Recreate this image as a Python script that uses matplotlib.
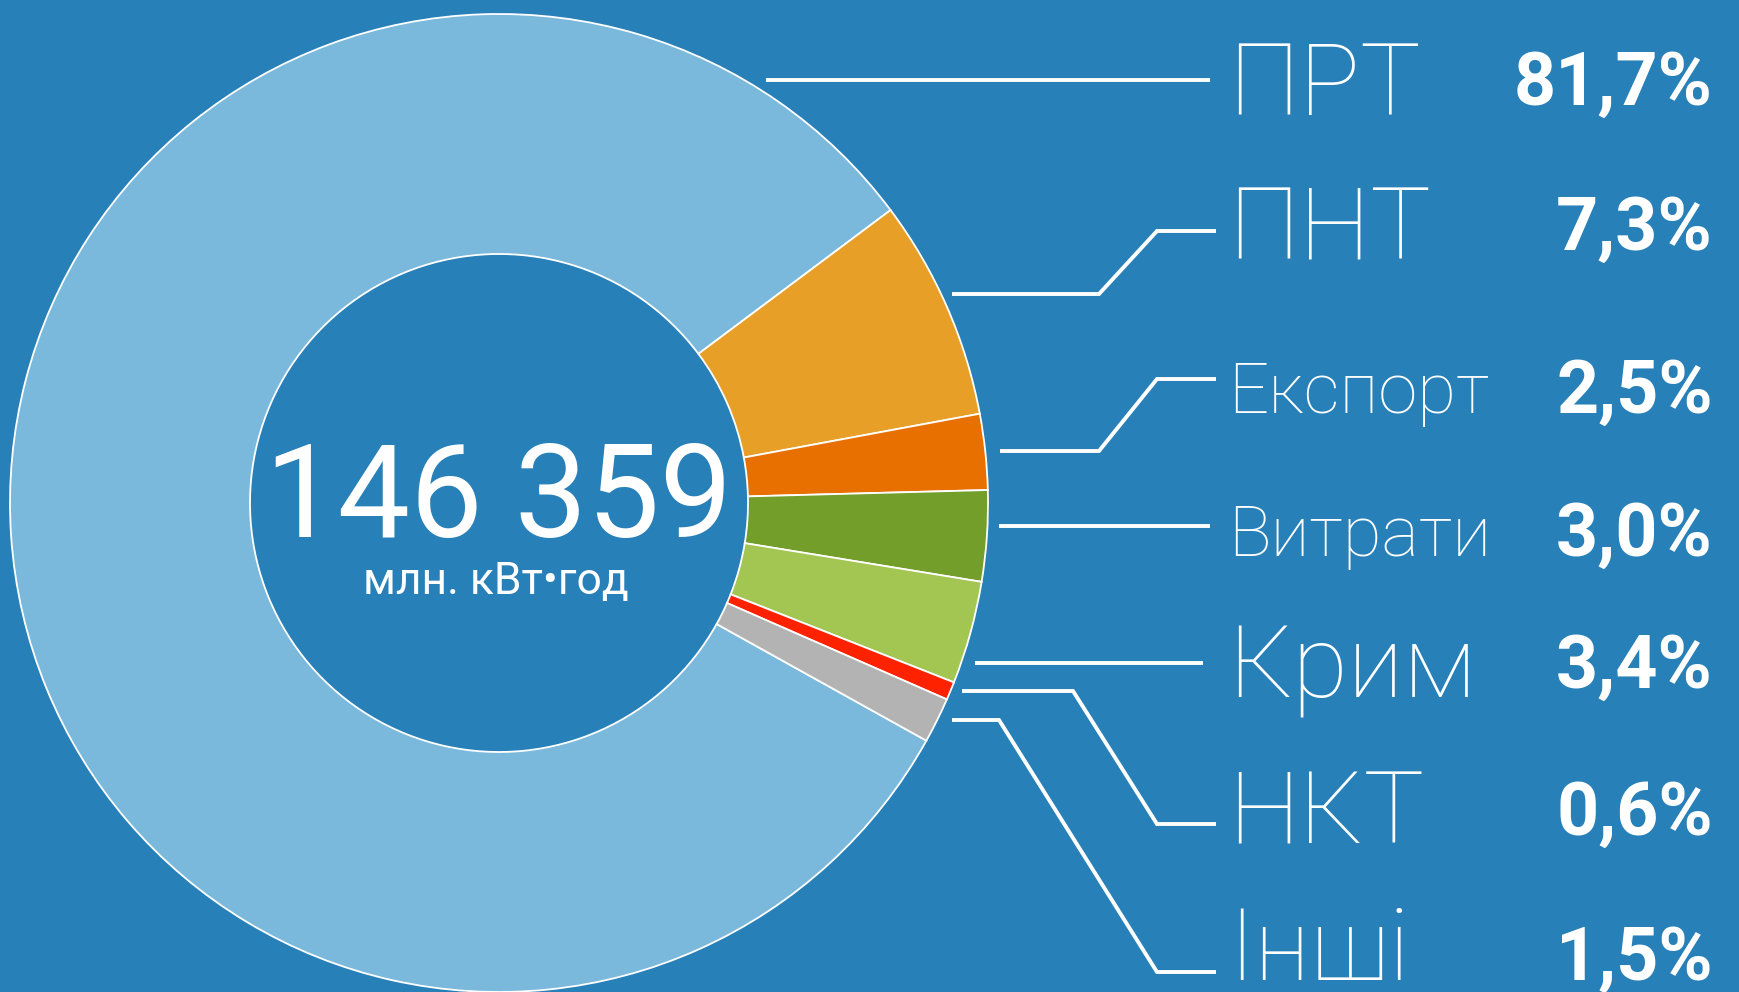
import matplotlib
matplotlib.use("Agg")
import matplotlib.pyplot as plt

# ---- data ----
categories = ["ПРТ", "ПНТ", "Експорт", "Витрати", "Крим", "НКТ", "Інші"]
shares = [81.7, 7.3, 2.5, 3.0, 3.4, 0.6, 1.5]
total_value = "146 359"
total_unit = "млн. кВт•год"

colors = ["#7ab9dc", "#e89f27", "#e87000", "#739e2a", "#a2c651", "#ff2200", "#b3b3b3"]
BG = "#2880b8"

W, H = 1740, 992
fig = plt.figure(figsize=(W / 100, H / 100), dpi=100, facecolor=BG)
ax = fig.add_axes([0, 0, 1, 1])
ax.set_facecolor(BG)

def Y(y):
    return H - y

cx, cy, R, r_in = 499, 503, 489, 249
ax.pie(shares, colors=colors, startangle=-29.08, counterclock=False,
       center=(cx, Y(cy)), radius=R, frame=True,
       wedgeprops=dict(width=R - r_in, edgecolor="white", linewidth=1.3))
ax.set_xlim(0, W)
ax.set_ylim(0, H)
ax.set_aspect("equal")
ax.axis("off")

FONT = "Roboto"
# center text
ax.text(cx, Y(537), total_value, ha="center", va="baseline", color="white",
        fontsize=93, family=FONT, fontweight="normal")
ax.text(cx - 3, Y(594), total_unit, ha="center", va="baseline", color="white",
        fontsize=32, family=FONT, fontweight="normal")

# leader lines (layout, y measured from top)
leaders = [
    [(766, 80), (1210, 80)],
    [(952, 294), (1099, 294), (1157, 231), (1216, 231)],
    [(1000, 451), (1099, 451), (1157, 379), (1216, 379)],
    [(999, 526), (1210, 526)],
    [(975, 663), (1203, 663)],
    [(962, 691), (1073, 691), (1157, 824), (1216, 824)],
    [(952, 720), (999, 720), (1157, 972), (1216, 972)],
]
for pts in leaders:
    ax.plot([p[0] for p in pts], [Y(p[1]) for p in pts], color="white",
            lw=2.8, solid_joinstyle="miter", solid_capstyle="butt")

label_base = [115, 260, 413, 556, 697, 844, 980]
label_size = [73, 73, 51, 51, 73, 73, 73]
pct_base = [105, 250, 413, 556, 688, 835, 980]
for name, v, lb, ls, pb in zip(categories, shares, label_base, label_size, pct_base):
    ax.text(1228, Y(lb), name, ha="left", va="baseline", color="white",
            fontsize=ls, family=FONT, fontweight="light")
    ax.text(1713, Y(pb), f"{v:.1f}".replace(".", ",") + "%", ha="right",
            va="baseline", color="white", fontsize=53, family=FONT,
            fontweight="bold")

fig.savefig("out.png", dpi=100, facecolor=BG)
